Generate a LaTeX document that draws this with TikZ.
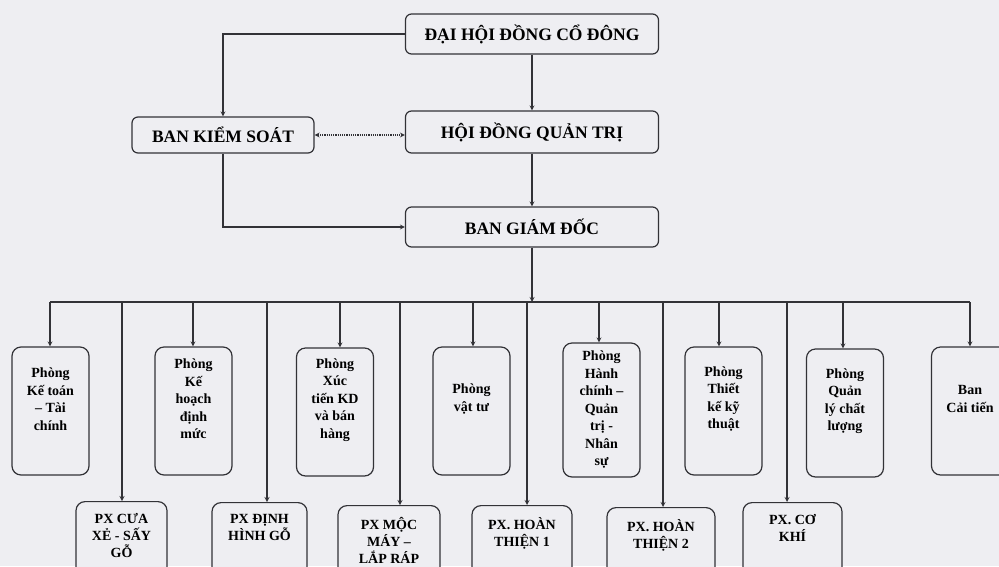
\documentclass[tikz,border=0pt]{standalone}
\usepackage{fontspec}
\setmainfont{Liberation Serif}
\usepackage{tikz}
\usetikzlibrary{arrows}
\definecolor{paper}{RGB}{238,238,242}
\definecolor{ink}{RGB}{50,50,55}
\tikzstyle{head} = [rectangle, rounded corners=6pt, minimum width=253pt, minimum height=40pt, inner sep=0pt, text centered, draw=ink, line width=1.2pt, fill=paper, font=\bfseries\fontsize{17.5}{20}\selectfont]
\tikzstyle{phong} = [rectangle, rounded corners=9pt, minimum width=77pt, minimum height=128pt, inner sep=0pt, draw=ink, line width=1.2pt, fill=paper, font=\bfseries\fontsize{14}{17.5}\selectfont]
\tikzstyle{px} = [rectangle, rounded corners=9pt, anchor=north, minimum height=80pt, inner sep=0pt, draw=ink, line width=1.2pt, fill=paper, font=\bfseries\fontsize{14}{17}\selectfont]
\tikzstyle{arrow} = [line width=1.2pt, draw=ink, ->, >=stealth]
\tikzstyle{line} = [line width=1.2pt, draw=ink]
\newcommand{\phongtxt}[2][24pt]{\parbox[c][120pt][c]{76pt}{\centering #2\par\vspace{#1}}}
\newcommand{\pxtxt}[1]{\parbox[c][76pt][t]{88pt}{\centering\vspace{10pt}#1}}

\begin{document}
\begin{tikzpicture}[x=1pt, y=-1pt, node distance=98pt]
\useasboundingbox (0,0) rectangle (999,566);
\fill [paper] (0,0) rectangle (999,566);

\node (dhcd) [head] at (532,34) {ĐẠI HỘI ĐỒNG CỔ ĐÔNG};
\node (hdqt) [head, minimum height=42pt, below of=dhcd] {HỘI ĐỒNG QUẢN TRỊ};
\node (bgd) [head, node distance=95pt, below of=hdqt] {BAN GIÁM ĐỐC};
\node (bks) [head, minimum width=182pt, minimum height=36pt, node distance=309pt, left of=hdqt, yshift=-3pt] {BAN KIỂM SOÁT};

\draw [arrow] (dhcd.west) -| (bks.north);
\draw [arrow] (dhcd) -- (hdqt);
\draw [arrow, <->, densely dotted] (bks.east) -- (bks.east -| hdqt.west);
\draw [arrow] (bks.south) |- (bgd.west);
\draw [arrow] (hdqt) -- (bgd);

% phong ban
\node (ketoan) [phong] at (50.5,411) {\phongtxt{Phòng\\ Kế toán\\ – Tài\\ chính}};
\node (kehoach) [phong] at (193.5,411) {\phongtxt{Phòng\\ Kế\\ hoạch\\ định\\ mức}};
\node (xuctien) [phong] at (335,412) {\phongtxt{Phòng\\ Xúc\\ tiến KD\\ và bán\\ hàng}};
\node (vattu) [phong] at (471.5,411) {\phongtxt{Phòng\\ vật tư}};
\node (hanhchinh) [phong, minimum height=134pt] at (601.5,410) {\phongtxt[0pt]{Phòng\\ Hành\\ chính –\\ Quản\\ trị -\\ Nhân\\ sự}};
\node (thietke) [phong] at (723.5,411) {\phongtxt{Phòng\\ Thiết\\ kế kỹ\\ thuật}};
\node (quanly) [phong] at (845,413) {\phongtxt{Phòng\\ Quản\\ lý chất\\ lượng}};
\node (caitien) [phong] at (970,411) {\phongtxt{Ban\\ Cải tiến}};

% phan xuong
\node (pxcua) [px, minimum width=91pt] at (121.5,501) {\pxtxt{PX CƯA\\ XẺ - SẤY\\ GỖ}};
\node (pxdinh) [px, minimum width=95pt] at (259.5,502) {\pxtxt{PX ĐỊNH\\ HÌNH GỖ}};
\node (pxmoc) [px, minimum width=102pt] at (389,505) {\pxtxt{PX MỘC\\ MÁY –\\ LẮP RÁP}};
\node (pxht1) [px, minimum width=100pt] at (522,505) {\pxtxt{PX. HOÀN\\ THIỆN 1}};
\node (pxht2) [px, minimum width=108pt] at (661,507) {\pxtxt{PX. HOÀN\\ THIỆN 2}};
\node (pxcokhi) [px, minimum width=99pt] at (792.5,502) {\pxtxt{PX. CƠ\\ KHÍ}};

% thanh ngang
\coordinate (b1) at (50,302);
\coordinate (b2) at (122,302);
\coordinate (b3) at (193,302);
\coordinate (b4) at (267,302);
\coordinate (b5) at (340,302);
\coordinate (b6) at (400,302);
\coordinate (b7) at (473,302);
\coordinate (b8) at (527,302);
\coordinate (b9) at (599,302);
\coordinate (b10) at (663,302);
\coordinate (b11) at (719,302);
\coordinate (b12) at (787,302);
\coordinate (b13) at (843,302);
\coordinate (b14) at (970,302);

\draw [arrow] (bgd.south) -- (bgd.south |- b1);
\draw [line] (b1) -- (b14);

\draw [arrow] (b1) -- (b1 |- ketoan.north);
\draw [arrow] (b2) -- (b2 |- pxcua.north);
\draw [arrow] (b3) -- (b3 |- kehoach.north);
\draw [arrow] (b4) -- (b4 |- pxdinh.north);
\draw [arrow] (b5) -- (b5 |- xuctien.north);
\draw [arrow] (b6) -- (b6 |- pxmoc.north);
\draw [arrow] (b7) -- (b7 |- vattu.north);
\draw [arrow] (b8) -- (b8 |- pxht1.north);
\draw [arrow] (b9) -- (b9 |- hanhchinh.north);
\draw [arrow] (b10) -- (b10 |- pxht2.north);
\draw [arrow] (b11) -- (b11 |- thietke.north);
\draw [arrow] (b12) -- (b12 |- pxcokhi.north);
\draw [arrow] (b13) -- (b13 |- quanly.north);
\draw [arrow] (b14) -- (b14 |- caitien.north);
\end{tikzpicture}
\end{document}
